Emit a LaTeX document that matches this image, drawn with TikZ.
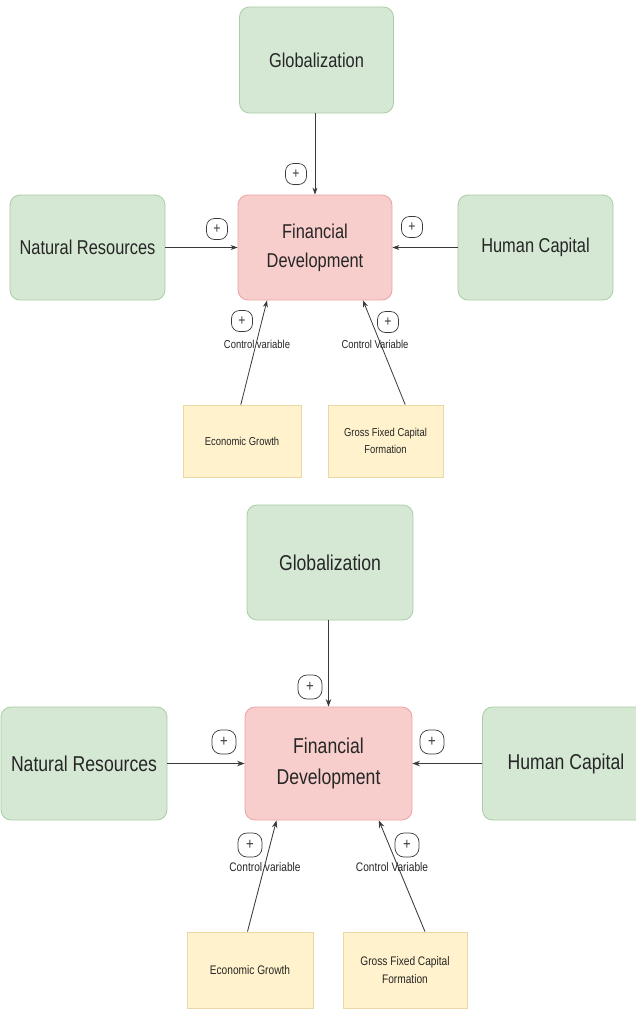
\documentclass[tikz,border=0pt]{standalone}
\usepackage{fontspec}
\setmainfont{Liberation Sans}[FakeStretch=0.82]
\usetikzlibrary{arrows.meta,calc}
\definecolor{gfill}{HTML}{D5E8D4}
\definecolor{gdraw}{HTML}{A9CDA4}
\definecolor{rfill}{HTML}{F8CECC}
\definecolor{rdraw}{HTML}{EBA3A3}
\definecolor{yfill}{HTML}{FFF2CC}
\definecolor{ydraw}{HTML}{EBD7A3}
\definecolor{txt}{HTML}{262626}
\definecolor{arrc}{HTML}{3A3A3A}
\begin{document}
\begin{tikzpicture}[x=1pt,y=-1pt,
  box/.style={rounded corners=10pt, line width=0.8pt, text=txt, align=center, inner sep=0pt},
  gbox/.style={box, fill=gfill, draw=gdraw},
  rbox/.style={box, fill=rfill, draw=rdraw},
  ybox/.style={box, rounded corners=0pt, fill=yfill, draw=ydraw},
  bigA/.style={font=\fontsize{20}{29}\selectfont},
  bigB/.style={font=\fontsize{21.5}{31}\selectfont},
  smallA/.style={font=\fontsize{11.5}{17}\selectfont},
  smallB/.style={font=\fontsize{12.4}{18}\selectfont},
  plusA/.style={draw=arrc, line width=0.7pt, rounded corners=8pt, fill=white, minimum width=21pt, minimum height=21pt, inner sep=0pt, text=arrc, font=\fontsize{15}{15}\selectfont},
  plusB/.style={plusA, rounded corners=9pt, minimum width=24pt, minimum height=24pt, font=\fontsize{16}{16}\selectfont},
  lbl/.style={text=txt, inner sep=0pt},
  arrA/.style={draw=arrc, line width=0.8pt, -{Stealth[length=7pt,width=5pt]}},
  arrB/.style={draw=arrc, line width=0.85pt, -{Stealth[length=7.5pt,width=5.5pt]}}
]
\useasboundingbox[fill=white] (0,0) rectangle (636,1010);

% ---------------- top diagram ----------------
\node[gbox, bigA, minimum width=154pt, minimum height=106pt] (glob1) at (316.5,60) {Globalization};
\node[rbox, bigA, minimum width=154pt, minimum height=105pt] (fin1) at (315,247.5) {Financial\\Development};
\node[gbox, bigA, minimum width=155pt, minimum height=105pt] (nr1) at (87.5,247.5) {Natural Resources};
\node[gbox, bigA, minimum width=155pt, minimum height=105pt] (hc1) at (535.5,247.5) {Human Capital};
\node[ybox, smallA, minimum width=118pt, minimum height=72pt] (eg1) at (242,441) {Economic Growth};
\node[ybox, smallA, minimum width=115pt, minimum height=72pt] (gf1) at (385.5,441) {Gross Fixed Capital\\Formation};

\draw[arrA] (fin1.north |- glob1.south) -- (fin1.north);
\draw[arrA] (nr1.east) -- (fin1.west);
\draw[arrA] (hc1.west) -- (fin1.east);
\coordinate (eg1s) at ($(eg1.north west)!0.49!(eg1.north east)$);
\coordinate (eg1e) at ($(fin1.south west)!0.19!(fin1.south east)$);
\coordinate (gf1s) at ($(gf1.north west)!0.67!(gf1.north east)$);
\coordinate (gf1e) at ($(fin1.south west)!0.81!(fin1.south east)$);
\draw[arrA] (eg1s) -- (eg1e);
\draw[arrA] (gf1s) -- (gf1e);

\node[plusA] (p1a) at (296,174) {+};
\node[plusA] (p1b) at (217,229) {+};
\node[plusA] (p1c) at (412,227) {+};
\node[plusA] (p1d) at (242,321) {+};
\node[plusA] (p1e) at (388,322) {+};
\node[lbl, smallA] (l1a) at (257,344) {Control variable};
\node[lbl, smallA] (l1b) at (375,344) {Control Variable};

% ---------------- bottom diagram ----------------
\node[gbox, bigB, minimum width=166pt, minimum height=115pt] (glob2) at (330,562.5) {Globalization};
\node[rbox, bigB, minimum width=167pt, minimum height=113pt] (fin2) at (328.5,763.5) {Financial\\Development};
\node[gbox, bigB, minimum width=166pt, minimum height=113pt] (nr2) at (84,763.5) {Natural Resources};
\node[gbox, bigB, minimum width=167pt, minimum height=113pt] (hc2) at (566,763.5) {Human Capital};
\node[ybox, smallB, minimum width=126pt, minimum height=76pt] (eg2) at (250,970) {Economic Growth};
\node[ybox, smallB, minimum width=124pt, minimum height=76pt] (gf2) at (405,970) {Gross Fixed Capital\\Formation};

\draw[arrB] (fin2.north |- glob2.south) -- (fin2.north);
\draw[arrB] (nr2.east) -- (fin2.west);
\draw[arrB] (hc2.west) -- (fin2.east);
\coordinate (eg2s) at ($(eg2.north west)!0.48!(eg2.north east)$);
\coordinate (eg2e) at ($(fin2.south west)!0.19!(fin2.south east)$);
\coordinate (gf2s) at ($(gf2.north west)!0.66!(gf2.north east)$);
\coordinate (gf2e) at ($(fin2.south west)!0.80!(fin2.south east)$);
\draw[arrB] (eg2s) -- (eg2e);
\draw[arrB] (gf2s) -- (gf2e);

\node[plusB] (p2a) at (310,687) {+};
\node[plusB] (p2b) at (224,742) {+};
\node[plusB] (p2c) at (432,742) {+};
\node[plusB] (p2d) at (250,845) {+};
\node[plusB] (p2e) at (407,845) {+};
\node[lbl, smallB] (l2a) at (265,867) {Control variable};
\node[lbl, smallB] (l2b) at (392,867) {Control Variable};
\end{tikzpicture}
\end{document}
